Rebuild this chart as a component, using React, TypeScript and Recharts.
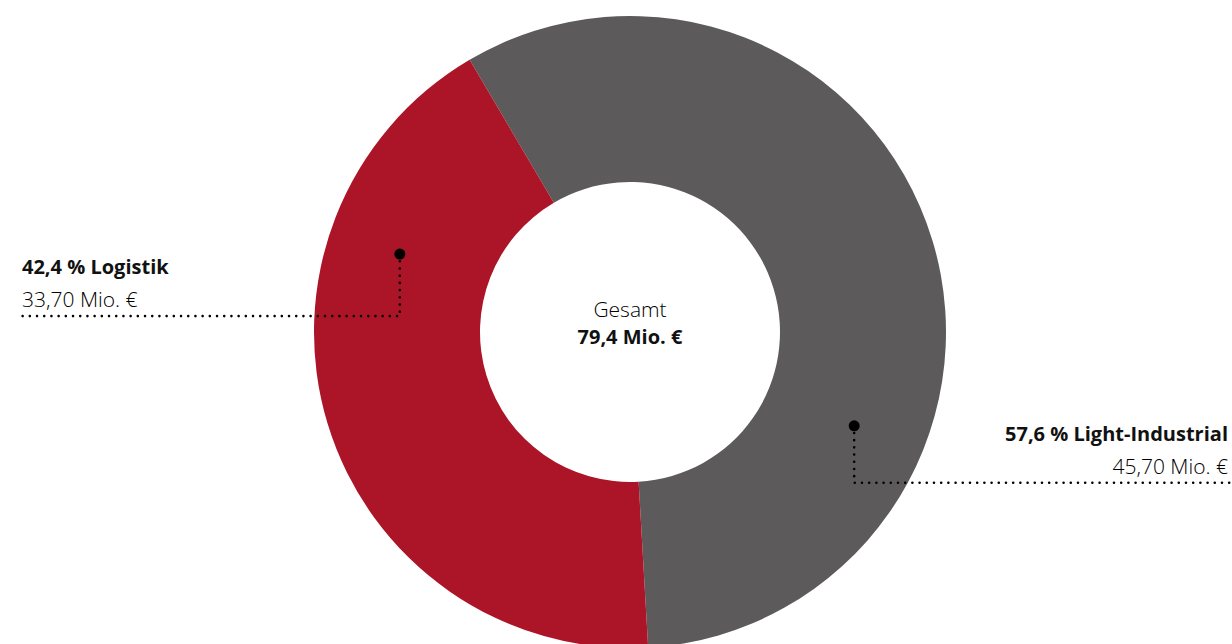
import { PieChart, Pie, Cell } from 'recharts';

const categories = ['Light-Industrial', 'Logistik'];
const values = [45.7, 33.7];
const shares = ['57,6 %', '42,4 %'];
const amounts = ['45,70 Mio. €', '33,70 Mio. €'];
const totalLabel = 'Gesamt';
const totalValue = '79,4 Mio. €';
const colors = ['#5c5a5b', '#ab1527'];

const data = categories.map((name, i) => ({ name, value: values[i] }));

const FONT = '"Open Sans", "Noto Sans", sans-serif';
const RAD = Math.PI / 180;

function CalloutLabel(props: any) {
  const { cx, cy, midAngle, index, innerRadius, outerRadius } = props;
  const left = Math.cos(-midAngle * RAD) < 0;
  const r = (innerRadius + outerRadius) / 2 + 10;
  const ang = (-midAngle + (left ? -1.8 : -5.8)) * RAD;
  const dx = cx + r * Math.cos(ang);
  const dy = cy - r * Math.sin(ang);
  const lineY = dy + (left ? 62 : 57);
  const endX = left ? 22 : 1230;
  const textX = left ? 22 : 1228;
  const anchor = left ? 'start' : 'end';
  return (
    <g>
      <path
        d={`M${dx},${dy} L${dx},${lineY} L${endX},${lineY}`}
        fill="none"
        stroke="#000"
        strokeWidth={2.6}
        strokeLinecap="round"
        strokeDasharray="0 7.2"
      />
      <circle cx={dx} cy={dy} r={5.5} fill="#000" />
      <text x={textX} y={lineY - 42} textAnchor={anchor} fontFamily={FONT} fontSize={20} fontWeight={700} fill="#111">
        {`${shares[index]} ${categories[index]}`}
      </text>
      <text x={textX} y={lineY - 9} textAnchor={anchor} fontFamily={FONT} fontSize={21} fontWeight={300} fill="#000">
        {amounts[index]}
      </text>
    </g>
  );
}

export default function App() {
  return (
    <div style={{ position: 'absolute', left: 0, top: 0, background: '#fff' }}>
      <PieChart width={1232} height={644} margin={{ top: 0, right: 0, bottom: 0, left: 0 }}>
        <Pie
          data={data}
          dataKey="value"
          nameKey="name"
          cx={630}
          cy={332}
          innerRadius={150}
          outerRadius={316}
          startAngle={120.5}
          endAngle={-239.5}
          stroke="none"
          label={CalloutLabel}
          labelLine={false}
          isAnimationActive={false}
        >
          {data.map((d, i) => (
            <Cell key={d.name} fill={colors[i]} />
          ))}
        </Pie>
        <text x={630} y={317} textAnchor="middle" fontFamily={FONT} fontSize={21} fontWeight={300} fill="#000">
          {totalLabel}
        </text>
        <text x={630} y={344} textAnchor="middle" fontFamily={FONT} fontSize={20} fontWeight={700} fill="#111">
          {totalValue}
        </text>
      </PieChart>
    </div>
  );
}
